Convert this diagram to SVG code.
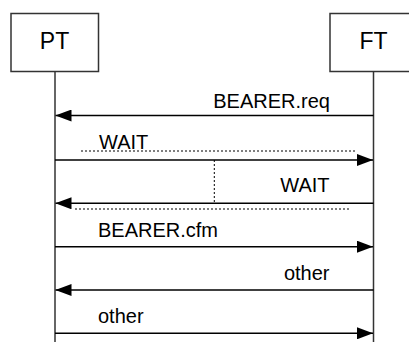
<svg xmlns="http://www.w3.org/2000/svg" width="409" height="342" viewBox="0 0 409 342">
<style>
.box{fill:#fff;stroke:#333;stroke-width:1.5}
.life{stroke:#333;stroke-width:1.5;fill:none}
.msg{stroke:#000;stroke-width:1.5;fill:none}
.dot{stroke:#000;stroke-width:1;stroke-dasharray:2,2;fill:none}
.t{font-family:"Liberation Sans",Arial,sans-serif;font-size:20px;fill:#000}
.tb{font-family:"Liberation Sans",Arial,sans-serif;font-size:23px;fill:#000}
</style>
<defs>
<marker id="ah" markerWidth="16" markerHeight="12" refX="16" refY="6" orient="auto" markerUnits="userSpaceOnUse">
<path d="M0,0 L16,6 L0,12 Z" fill="#000"/>
</marker>
</defs>
<rect width="409" height="342" fill="#fff"/>
<g id="PT">
<rect class="box" x="11" y="13.5" width="87.5" height="58"/>
<text class="tb" x="54.5" y="49.3" text-anchor="middle">PT</text>
<line class="life" x1="55" y1="71.5" x2="55" y2="342"/>
</g>
<g id="FT">
<rect class="box" x="330" y="13.5" width="90" height="58"/>
<text class="tb" x="373.5" y="49.3" text-anchor="middle">FT</text>
<line class="life" x1="373.5" y1="71.5" x2="373.5" y2="342"/>
</g>
<g id="connectors">
<line class="msg" x1="373.5" y1="115.5" x2="55.5" y2="115.5" marker-end="url(#ah)"/>
<line class="dot" x1="81" y1="151" x2="356" y2="151"/>
<line class="msg" x1="55" y1="160" x2="373" y2="160" marker-end="url(#ah)"/>
<line class="dot" x1="214.3" y1="160" x2="214.3" y2="202"/>
<line class="msg" x1="373.5" y1="203.3" x2="55.5" y2="203.3" marker-end="url(#ah)"/>
<line class="dot" x1="75" y1="209" x2="349" y2="209"/>
<line class="msg" x1="55" y1="246.7" x2="373" y2="246.7" marker-end="url(#ah)"/>
<line class="msg" x1="373.5" y1="290" x2="55.5" y2="290" marker-end="url(#ah)"/>
<line class="msg" x1="55" y1="333.3" x2="373" y2="333.3" marker-end="url(#ah)"/>
</g>
<g id="labels">
<text class="t" x="330" y="108.3" text-anchor="end">BEARER.req</text>
<text class="t" x="99" y="149.3">WAIT</text>
<text class="t" x="329.5" y="192.3" text-anchor="end">WAIT</text>
<text class="t" x="98" y="237.3">BEARER.cfm</text>
<text class="t" x="329.5" y="280" text-anchor="end">other</text>
<text class="t" x="98" y="323.3">other</text>
</g>
</svg>
